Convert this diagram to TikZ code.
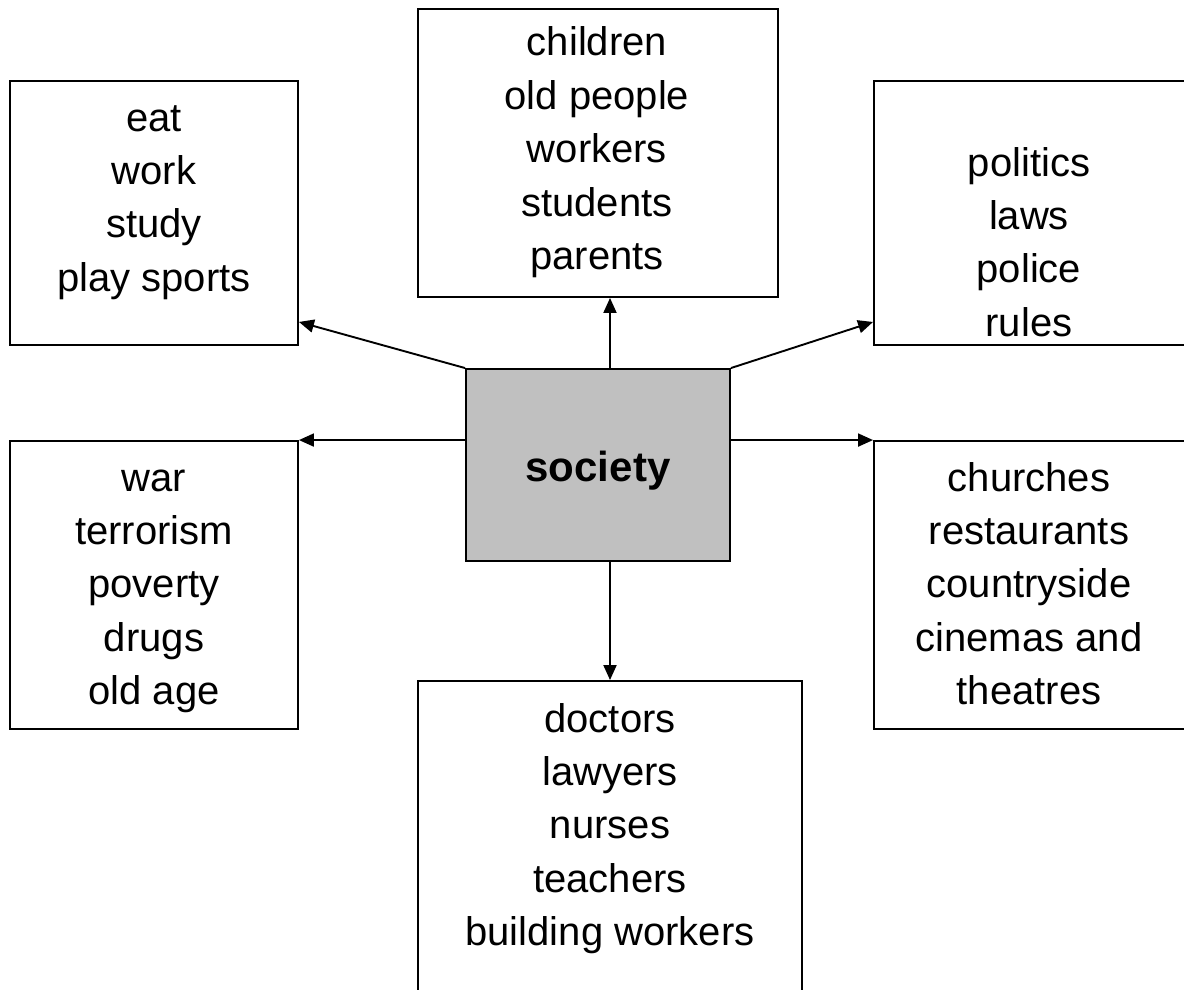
\documentclass[tikz,border=0pt]{standalone}
\usepackage{fontspec}
\setmainfont{Liberation Sans}
\newfontfamily\labelfont{Liberation Sans}
\usetikzlibrary{arrows.meta}
\definecolor{centregray}{HTML}{C0C0C0}
\tikzset{
  box/.style={draw=black, line width=1.9pt, rectangle, inner sep=0pt, fill=white},
  centrebox/.style={box, fill=centregray},
  arr/.style={line width=1.9pt, -{Triangle[length=15pt,width=13pt]}},
  txt/.style={inner sep=0pt, anchor=base, font=\fontsize{40}{53}\selectfont},
}
\begin{document}
\begin{tikzpicture}[x=1pt,y=-1pt]
\useasboundingbox (0,0) rectangle (1184,990);
\clip (0,0) rectangle (1184,990);
\fill[white] (0,0) rectangle (1184,990);

% boxes
\node[box, minimum width=288pt, minimum height=264pt] (tl) at (154,213) {};
\node[box, minimum width=360pt, minimum height=288pt] (tc) at (598,153) {};
\node[box, minimum width=326pt, minimum height=264pt] (tr) at (1037,213) {};
\node[box, minimum width=288pt, minimum height=288pt] (ml) at (154,585) {};
\node[box, minimum width=326pt, minimum height=288pt] (mr) at (1037,585) {};
\node[box, minimum width=384pt, minimum height=330pt] (bt) at (610,846) {};
\node[centrebox, minimum width=264pt, minimum height=192pt] (soc) at (598,465) {};
\node[inner sep=0pt, anchor=base, font=\fontsize{42}{50}\labelfont\bfseries\selectfont] (soctext) at (598,481) {society};

% connectors
\draw[arr] (soc.north -| bt.north) -- (tc.south -| bt.north);
\draw[arr] (soc.north west) -- ([yshift=24pt]tl.south east);
\draw[arr] (soc.north east) -- ([yshift=24pt]tr.south west);
\draw[arr] (soc.west |- ml.north east) -- (ml.north east);
\draw[arr] (soc.east |- mr.north west) -- (mr.north west);
\draw[arr] (soc.south -| bt.north) -- (bt.north);

% texts
\foreach \t [count=\i] in {eat,work,study,play sports}
  \node[txt] (tl-\i) at (154,{131+53.4*(\i-1)}) {\t};
\foreach \t [count=\i] in {children,old people,workers,students,parents}
  \node[txt] (tc-\i) at (597,{56+53.4*(\i-1)}) {\t};
\foreach \t [count=\i] in {politics,laws,police,rules}
  \node[txt] (tr-\i) at (1029,{176+53.4*(\i-1)}) {\t};
\foreach \t [count=\i] in {war,terrorism,poverty,drugs,old age}
  \node[txt] (ml-\i) at (154,{491+53.4*(\i-1)}) {\t};
\foreach \t [count=\i] in {churches,restaurants,countryside,cinemas and,theatres}
  \node[txt] (mr-\i) at (1029,{491+53.4*(\i-1)}) {\t};
\foreach \t [count=\i] in {doctors,lawyers,nurses,teachers,building workers}
  \node[txt] (bt-\i) at (610,{732+53.4*(\i-1)}) {\t};
\end{tikzpicture}
\end{document}
